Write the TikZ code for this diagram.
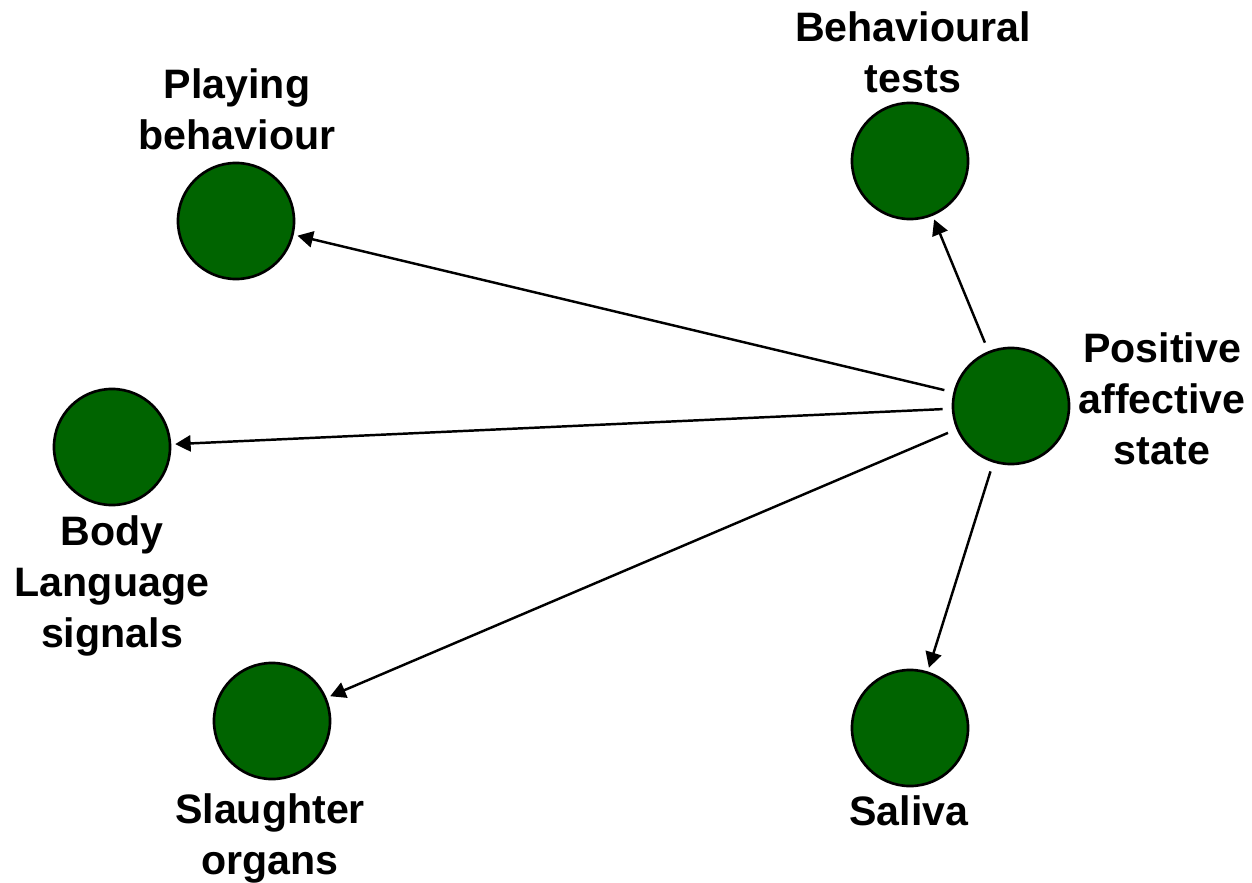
\documentclass[tikz,border=0pt]{standalone}
\usepackage{fontspec}
\setmainfont{Liberation Sans}
\usepackage{tikz}
\usetikzlibrary{arrows.meta,positioning}
\definecolor{leaf}{HTML}{006400}
\definecolor{ink}{HTML}{000000}

\begin{document}
\begin{tikzpicture}[x=0.01cm,y=-0.01cm,
  blob/.style={circle,draw=ink,line width=0.75pt,fill=leaf,minimum size=1.16cm,inner sep=0pt},
  tag/.style={align=center,inner sep=0pt,font=\fontsize{11.7}{14.5}\selectfont\bfseries},
  arr/.style={-{Triangle[length=4.4pt,width=4.6pt]},line width=0.7pt,shorten <=2.6pt,shorten >=1.1pt}]
\useasboundingbox (0,0) rectangle (1252,882);
% --- circles ----------------------------------------------------------
\node[blob] (pos)    at (1011,406) {};
\node[blob] (play)   at (236,221) {};
\node[blob] (tests)  at (910,161) {};
\node[blob] (body)   at (112,447) {};
\node[blob] (slaugh) at (272,721) {};
\node[blob] (saliva) at (910,728) {};
% --- labels: struts keep line heights even
\node[tag] (lpos)    at (1162,403) {\strut Positive\\\strut affective\\\strut state};
\node[tag] (lplay)   at (237,114)  {\strut Playing\\\strut behaviour};
\node[tag] (ltests)  at (913,57)   {\strut Behavioural\\\strut tests};
\node[tag] (lbody)   at (112,586)  {\strut Body\\\strut Language\\\strut signals};
\node[tag] (lslaugh) at (270,839)  {\strut Slaughter\\\strut organs};
\node[tag] (lsaliva) at (909,815)  {\strut Saliva};
% --- arrows out of the central state
\foreach \t in {play,tests,body,slaugh,saliva} {
  \draw[arr] (pos) -- (\t);
}
\end{tikzpicture}
\end{document}
